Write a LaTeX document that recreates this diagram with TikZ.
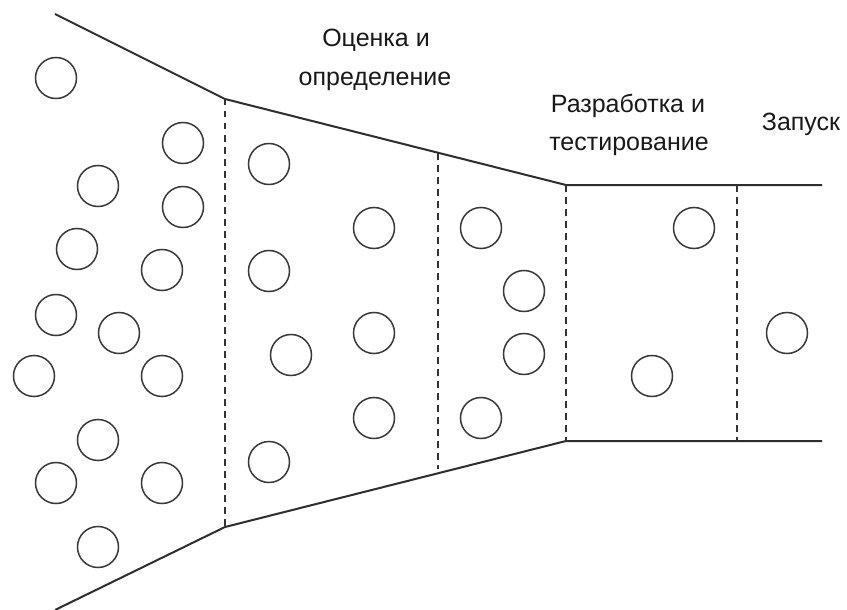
\documentclass[tikz,border=0pt]{standalone}
\usepackage{fontspec}
\setmainfont{Liberation Sans}
\begin{document}
\begin{tikzpicture}[x=1pt,y=-1pt,
  bub/.style={circle,draw=black!78,line width=1.5pt,minimum size=41pt,inner sep=0pt},
  edge/.style={draw=black!82,line width=2pt},
  sep/.style={draw=black!80,line width=2pt,dash pattern=on 6.5pt off 5.5pt},
  lab/.style={font=\fontsize{25}{37}\selectfont,align=center,text=black!90,inner sep=0pt}]
\useasboundingbox (0,0) rectangle (847,610);
% outline coordinates
\coordinate (t0) at (55,14);
\coordinate (t1) at (225,99);
\coordinate (t2) at (566,185);
\coordinate (t3) at (822,185);
\coordinate (b0) at (55,610);
\coordinate (b1) at (225,527);
\coordinate (b2) at (566,441);
\coordinate (b3) at (822,441);
\coordinate (m1) at (438,153);
\coordinate (m2) at (438,469);
\coordinate (n1) at (737,185);
\coordinate (n2) at (737,441);
\draw[edge] (t0) -- (t1) -- (t2) -- (t3);
\draw[edge] (b0) -- (b1) -- (b2) -- (b3);
\draw[sep] (t1) -- (b1);
\draw[sep] (m1) -- (m2);
\draw[sep] (t2) -- (b2);
\draw[sep] (n1) -- (n2);
% bubbles
\node[bub] (c1) at (56,78) {};
\node[bub] (c2) at (183,143) {};
\node[bub] (c3) at (98,186) {};
\node[bub] (c4) at (183,207) {};
\node[bub] (c5) at (77,249) {};
\node[bub] (c6) at (162,270) {};
\node[bub] (c7) at (56,315) {};
\node[bub] (c8) at (119,333) {};
\node[bub] (c9) at (34,376) {};
\node[bub] (c10) at (162,376) {};
\node[bub] (c11) at (98,440) {};
\node[bub] (c12) at (56,483) {};
\node[bub] (c13) at (162,483) {};
\node[bub] (c14) at (98,547) {};
\node[bub] (d1) at (269,164) {};
\node[bub] (d2) at (269,271) {};
\node[bub] (d3) at (291,355) {};
\node[bub] (d4) at (269,462) {};
\node[bub] (d5) at (374,228) {};
\node[bub] (d6) at (374,333) {};
\node[bub] (d7) at (374,418) {};
\node[bub] (e1) at (481,228) {};
\node[bub] (e2) at (524,291) {};
\node[bub] (e3) at (524,354) {};
\node[bub] (e4) at (481,418) {};
\node[bub] (f1) at (694,228) {};
\node[bub] (f2) at (652,376) {};
\node[bub] (g1) at (787,333) {};
% labels
\node[lab,anchor=base] (l1) at (376,47) {Оценка и};
\node[lab,anchor=base] (l2) at (375,85) {определение};
\node[lab,anchor=base] (l3) at (628,113) {Разработка и};
\node[lab,anchor=base] (l4) at (629,150) {тестирование};
\node[lab,anchor=base] (l5) at (801,130) {Запуск};
\end{tikzpicture}
\end{document}
